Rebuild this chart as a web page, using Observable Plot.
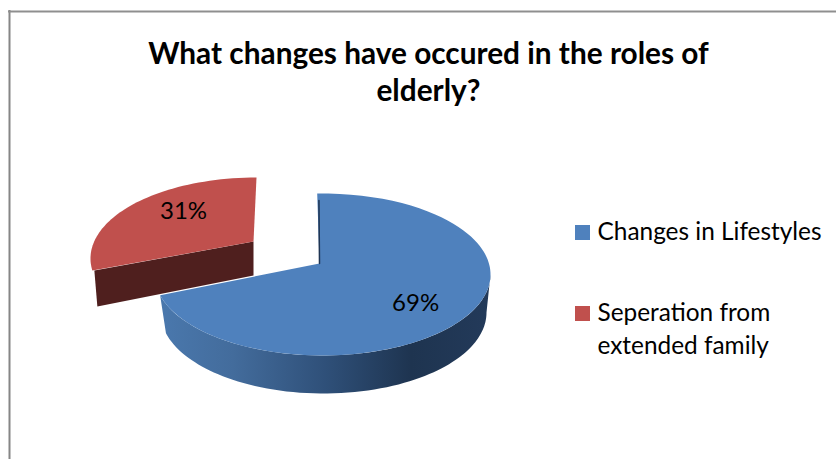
<!DOCTYPE html>
<html>
<head>
<meta charset="utf-8">
<script src="https://cdn.jsdelivr.net/npm/d3@7"></script>
<script src="https://cdn.jsdelivr.net/npm/@observablehq/plot@0.6"></script>
<style>
html,body{margin:0;padding:0;background:#fff;overflow:hidden}
svg{display:block}
</style>
</head>
<body>
<div id="chart"></div>
<script>
// Data
const categories = ["Changes in Lifestyles", "Seperation from extended family"];
const shares = [69, 31];
const titleLines = ["What changes have occured in the roles of", "elderly?"];
const legendLines = [["Changes in Lifestyles"], ["Seperation from", "extended family"]];

// Style
const colors = ["#4f81bd", "#c0504d"];
const cutColors = ["#1f3553", "#4f1f1e"];
const FONT = "Lato, 'Open Sans', sans-serif";

// Drawing geometry of the tilted pie, in page units
const W = 837, H = 459;
const blue = {cx: 322, cy: 274, rx: 168, ry: 81, start: -1.3, warp: 11.2, apex: [319, 263],
              base: {cx: 323, cy: 312, rx: 163, ry: 81}, labelDx: 0, labelDy: 0, labelR: 0.66};
const red = {cx: 256, cy: 258, rx: 166, ry: 81, start: 0, warp: 19, apex: [253, 241],
             depth: [3, 34], labelAt: [183, 211]};

const rad = d => d * Math.PI / 180;
const warped = (g, t) => t + g.warp * Math.sin(rad(2 * t));
const rim = (g, t) => {
  const s = rad(warped(g, t));
  return [g.cx + g.rx * Math.sin(s), g.cy - g.ry * Math.cos(s)];
};
const sweep = (from, to, n = 90) => d3.range(n + 1).map(i => from + (to - from) * i / n);

const startBlue = blue.start;
const endBlue = blue.start + shares[0] * 3.6;
const startRed = red.start + shares[0] * 3.6;
const endRed = red.start + 360;

// Blue top face
const blueTop = [blue.apex, ...sweep(startBlue, endBlue).map(t => rim(blue, t))];

// Blue outer wall: from where the rim turns the right extreme round to the cut
const wallFrom = 90;
const wallTop = sweep(wallFrom, endBlue).map(t => rim(blue, t));
const baseOf = t => {
  const s = rad(warped(blue, t));
  return [blue.base.cx + blue.base.rx * Math.sin(s), blue.base.cy - blue.base.ry * Math.cos(s)];
};
const wallBottom = sweep(endBlue, wallFrom).map(baseOf);
const blueWall = [...wallTop, ...wallBottom];

// Dark sliver along the blue slice's back cut
const rimStart = rim(blue, startBlue);
const lerp = (a, b, k) => [a[0] + (b[0] - a[0]) * k, a[1] + (b[1] - a[1]) * k];
const blueCut = [lerp(rimStart, blue.apex, 0.1).map((v, i) => v + (i ? 0 : 1.5)),
                 [blue.apex[0], blue.apex[1]]];

// Red exploded slice
const redTop = [red.apex, ...sweep(startRed, endRed).map(t => rim(red, t))];
const redEnd = rim(red, startRed);
const redCut = [red.apex, [redEnd[0] + 2, redEnd[1]],
                [redEnd[0] + 2 + red.depth[0], redEnd[1] + red.depth[1] + 2],
                [red.apex[0], red.apex[1] + red.depth[1]]];

// Labels
const midPoint = (g, a, b, r) => {
  const s = rad((a + b) / 2);
  return [g.cx + g.rx * r * Math.sin(s) + g.labelDx, g.cy - g.ry * r * Math.cos(s) + g.labelDy];
};
const pieLabels = [
  {text: shares[0] + "%", at: midPoint(blue, startBlue, endBlue, blue.labelR)},
  {text: shares[1] + "%", at: red.labelAt}
];

// Legend rows
const legendRows = [
  {line: legendLines[0][0], y: 232},
  {line: legendLines[1][0], y: 313},
  {line: legendLines[1][1], y: 346}
];
const swatches = [
  {y1: 225, y2: 240, fill: colors[0], name: categories[0]},
  {y1: 306, y2: 321, fill: colors[1], name: categories[1]}
];

const face = (pts, fill) => Plot.line(pts, {x: d => d[0], y: d => d[1], fill, stroke: "none", curve: "linear"});

const defs = () => {
  const s = d3.create("svg:defs");
  const g = s.append("linearGradient").attr("id", "wall").attr("x1", "0").attr("x2", "1").attr("y1", "0").attr("y2", "0");
  [[0, "#4a78ad"], [0.22, "#436c9c"], [0.5, "#2f5079"], [0.76, "#1e3450"], [1, "#233a5a"]]
    .forEach(([o, c]) => g.append("stop").attr("offset", o).attr("stop-color", c));
  return s.node();
};

const plot = Plot.plot({
  width: W, height: H,
  margin: 0,
  x: {domain: [0, W], range: [0, W], axis: null},
  y: {domain: [0, H], range: [0, H], axis: null},
  style: {background: "#fff"},
  marks: [
    defs,
    Plot.ruleX([9], {y1: 10, y2: H, stroke: "#868686", strokeWidth: 2}),
    Plot.ruleY([11], {x1: 8, x2: W - 1, stroke: "#8f8f8f", strokeWidth: 2}),
    face(redCut, cutColors[1]),
    face(redTop, colors[1]),
    face(blueWall, "url(#wall)"),
    face(blueTop, colors[0]),
    Plot.line(blueCut, {x: d => d[0], y: d => d[1], stroke: cutColors[0], strokeWidth: 1.5}),
    Plot.text(pieLabels, {x: d => d.at[0], y: d => d.at[1], text: "text", fontSize: 24, fontFamily: FONT, fill: "#000", textAnchor: "middle", lineAnchor: "middle"}),
    Plot.text(titleLines, {x: 428, y: (d, i) => [54, 91][i], text: d => d, fontSize: 29.8, fontWeight: 700, fontFamily: FONT, fill: "#000", textAnchor: "middle", lineAnchor: "middle"}),
    Plot.rect(swatches, {x1: 575, x2: 590, y1: "y1", y2: "y2", fill: "fill"}),
    Plot.text(legendRows, {x: 597, y: "y", text: "line", fontSize: 24.4, fontFamily: FONT, fill: "#000", textAnchor: "start", lineAnchor: "middle"})
  ]
});
document.getElementById("chart").appendChild(plot);
</script>
</body>
</html>
